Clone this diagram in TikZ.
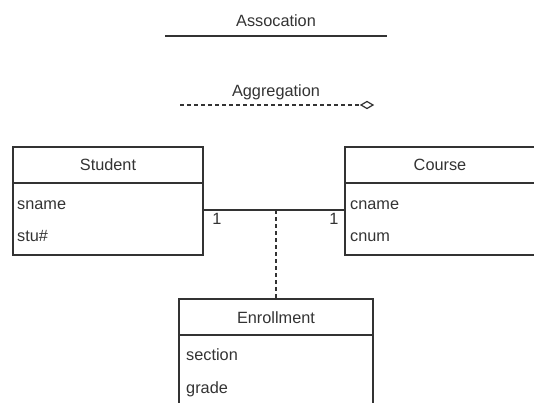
\documentclass[tikz,border=0pt]{standalone}
\usepackage{fontspec}
\setmainfont{Liberation Sans}
\definecolor{ink}{HTML}{333333}
\tikzset{
  classbox/.style={draw=ink, line width=1.2pt, rectangle, inner sep=0pt},
  lbl/.style={text=ink, font=\fontsize{16.3}{19}\selectfont, inner sep=0pt, anchor=base},
  attr/.style={lbl, anchor=base west},
  conn/.style={draw=ink, line width=1.2pt},
  dashconn/.style={draw=ink, line width=1.2pt, dash pattern=on 4pt off 3pt},
}
\begin{document}
\begin{tikzpicture}[x=1pt, y=-1pt]
  \useasboundingbox (0,0) rectangle (534,403);
  \clip (0,0) rectangle (534,403);

  % legend
  \node[lbl] (assoclbl) at (276,27) {Assocation};
  \coordinate (assocA) at (165,36);
  \coordinate (assocB) at (387,36);
  \draw[conn] (assocA) -- (assocB);

  \node[lbl] (agglbl) at (276,97) {Aggregation};
  \coordinate (aggA) at (180,105);
  \coordinate (aggB) at (361,105);
  \draw[dashconn] (aggA) -- (aggB);
  % hollow aggregation diamond
  \draw[conn, fill=white, line join=miter]
    (aggB) -- ++(6,-3.5) -- ++(6,3.5) -- ++(-6,3.5) -- cycle;

  % Student class
  \node[classbox, minimum width=190pt, minimum height=108pt] (student) at (108,201) {};
  \draw[conn] (13,183) -- (203,183);
  \node[lbl] (studentname) at (108,171) {Student};
  \node[attr] (sname) at (17,209) {sname};
  \node[attr] (stu) at (17,241) {stu\#};

  % Course class (continues past the right edge)
  \node[classbox, minimum width=210pt, minimum height=108pt] (course) at (450,201) {};
  \draw[conn] (345,183) -- (555,183);
  \node[lbl] (coursename) at (440,171) {Course};
  \node[attr] (cname) at (350,209) {cname};
  \node[attr] (cnum) at (350,241) {cnum};

  % Enrollment class (continues past the bottom edge)
  \node[classbox, minimum width=194pt, minimum height=130pt] (enroll) at (276,364) {};
  \draw[conn] (179,335) -- (373,335);
  \node[lbl] (enrollname) at (276,323) {Enrollment};
  \node[attr] (section) at (186,360) {section};
  \node[attr] (grade) at (186,393) {grade};

  % association between Student and Course
  \coordinate (linkL) at (student.east |- 0,210);
  \coordinate (linkR) at (course.west |- 0,210);
  \draw[conn] (linkL) -- (linkR);
  \node[lbl] (multL) at (217,224) {1};
  \node[lbl] (multR) at (334,224) {1};

  % association class link
  \coordinate (linkMid) at (enroll.north |- linkL);
  \draw[dashconn] (linkMid) -- (enroll.north);
\end{tikzpicture}
\end{document}
